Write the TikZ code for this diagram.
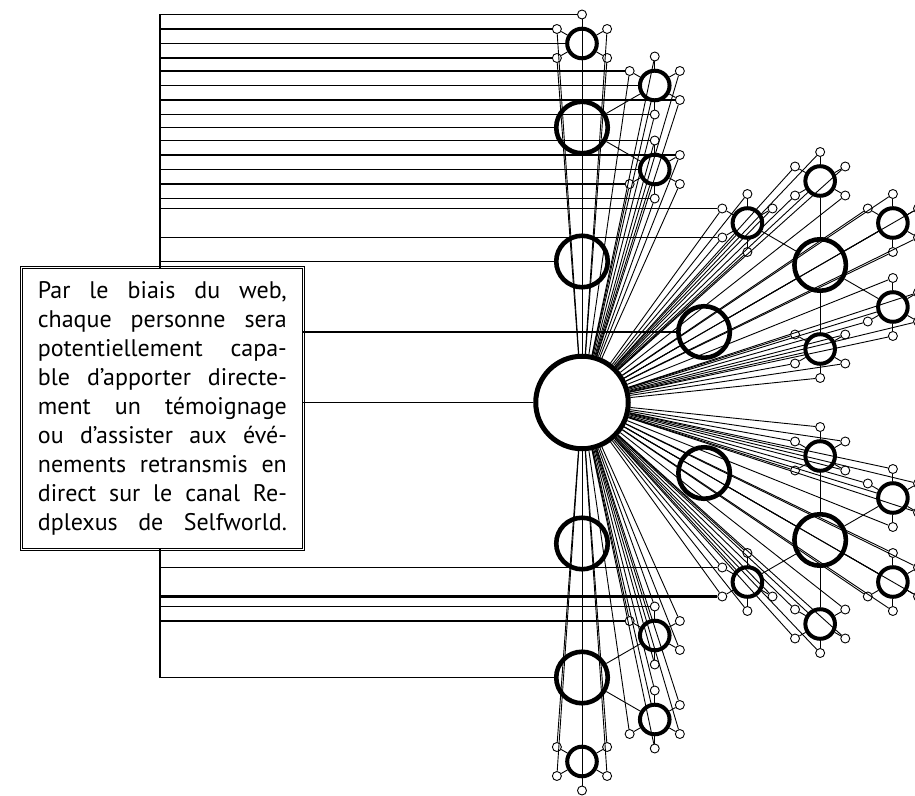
\documentclass[tikz,border=0pt]{standalone}
\usepackage{fontspec}
\setmainfont{PT Sans}
\usetikzlibrary{calc}

\newcommand\boxline[1]{{\spaceskip=0pt\xspaceskip=0pt\makebox[249pt][s]{#1}}}

\tikzset{
  hub/.style={circle,draw,line width=5pt,minimum size=92.5pt,inner sep=0pt},
  relay/.style={circle,draw,line width=4.6pt,minimum size=51.5pt,inner sep=0pt},
  cell/.style={circle,draw,line width=4pt,minimum size=29.6pt,inner sep=0pt},
  seed/.style={circle,draw,line width=0.9pt,minimum size=9pt,inner sep=0pt},
  link/.style={line width=0.9pt},
  rail/.style={line width=1.1pt},
  note/.style={draw=black,line width=0.7pt,fill=white,align=justify,
    text width=249pt,minimum width=280pt,minimum height=280pt,inner sep=0pt,
    font=\fontsize{24}{28.9}\selectfont}
}

\begin{document}
\begin{tikzpicture}[x=1pt,y=1pt]
\useasboundingbox (-582,-392.5) rectangle (333,402.5);
\clip (-582,-392.5) rectangle (333,402.5);
\node[hub] (r) at (0,0) {};
\coordinate (lft) at (-422,0);

\foreach \ang/\brn/\mids in {90/t/{90/n,30/ne,-30/se},
    30/u/{150/nw,90/n,30/ne,-30/se,-90/s},
    -30/d/{90/n,30/ne,-30/se,-90/s,210/sw},
    -90/b/{30/ne,-30/se,-90/s}} {
  \node[relay] (\brn1) at (\ang:141) {};
  \node[relay] (\brn2) at (\ang:275) {};
  \draw[link] (r) -- (\brn1);
  \draw[link] (\brn1) -- (\brn2);
  \foreach \m/\mn in \mids {
    \node[cell] (\brn-\mn) at ($(\brn2)+(\m:84)$) {};
    \draw[link] (\brn2) -- (\brn-\mn);
    \draw[link] (r) -- (\brn-\mn);
    \foreach \o/\k in {-120/1,-60/2,0/3,60/4,120/5} {
      \node[seed] (\brn-\mn-\k) at ($(\brn-\mn)+(\m+\o:29)$) {};
      \draw[link] (\brn-\mn) -- (\brn-\mn-\k);
      \draw[link] (r) -- (\brn-\mn-\k);
    }
  }
}

% rails from the left
\draw[rail] (t-n-3 -| lft) -- (b2 -| lft);
\foreach \p in {t-n-3,t-n-4,t-n,t-n-5,t-ne-5,t-ne,t-ne-2,t-ne-1,t2,
    t-se-5,t-se-4,t-se,t-se-1,t-se-2,u-nw-3,u-nw-4,t1,u1,r,d-sw-2,
    b-ne-4,b-ne-5,b2}
  \draw[rail] (\p.west -| lft) -- (\p.west);
\draw[line width=2.6pt] (d-sw-3.west -| lft) -- (d-sw-3.west);

\node[note] (txt) at (-419.6,-6) {%
\boxline{Par le biais du web,}\\
\boxline{chaque personne sera}\\
\boxline{potentiellement capa-}\\
\boxline{ble d’apporter directe-}\\
\boxline{ment un témoignage}\\
\boxline{ou d’assister aux évé-}\\
\boxline{nements retransmis en}\\
\boxline{direct sur le canal Re-}\\
\boxline{dplexus de Selfworld.}};
\draw[line width=0.7pt] ([shift={(-1.8,1.8)}]txt.north west) rectangle ([shift={(1.8,-1.8)}]txt.south east);
\end{tikzpicture}
\end{document}
